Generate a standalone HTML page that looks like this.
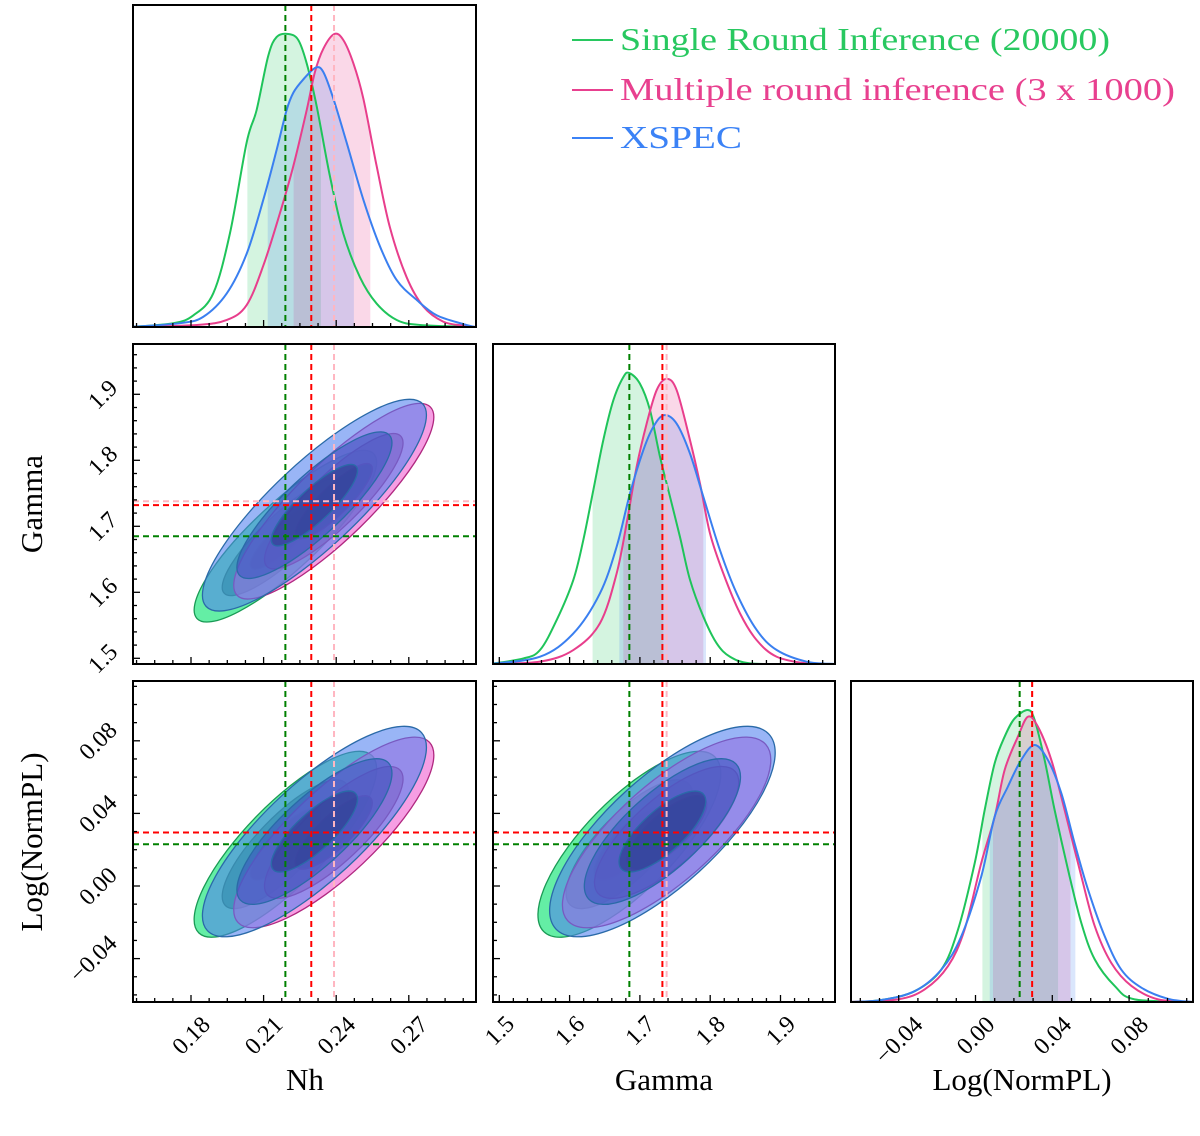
<!DOCTYPE html>
<html><head><meta charset="utf-8"><style>
html,body{margin:0;padding:0;background:#fff}
svg{display:block}
text{font-family:"Liberation Serif",serif;fill:#000}
</style></head>
<body>
<svg id="chart" width="1200" height="1136" viewBox="0 0 1200 1136" xmlns="http://www.w3.org/2000/svg"></svg>
<script>
// ---------- data ----------
const seriesNames = ['Single Round Inference (20000)', 'Multiple round inference (3 x 1000)', 'XSPEC'];
const paramNames = ['Nh', 'Gamma', 'Log(NormPL)'];
const greenMean = [0.219, 1.685, 0.023];
const pinkMean = [0.239, 1.738, 0.0295];
const blueMean = [0.231, 1.732, 0.030];
const greenSigma = [0.0145, 0.050, 0.0197];
const pinkSigma = [0.0159, 0.057, 0.0202];
const blueSigma = [0.0178, 0.0617, 0.0223];
// correlations [Nh-Gamma, Nh-LogNorm, Gamma-LogNorm]
const greenRho = [0.86, 0.81, 0.76];
const pinkRho = [0.86, 0.81, 0.76];
const blueRho = [0.85, 0.80, 0.75];
const contourLevels = [1, 1.8, 2.6];
const truthGreen = [0.219, 1.685, 0.023];
const truthRed = [0.2297, 1.732, 0.0295];
const truthPink = [0.2391, 1.738, 0.0295];
const nhGreenX = [0.1548,0.1727,0.1810,0.1892,0.1961,0.2030,0.2071,0.2119,0.2154,0.2202,0.2243,0.2278,0.2319,0.2374,0.2429,0.2498,0.2567,0.2650,0.2746,0.2974];
const nhGreenD = [0,0.013,0.04,0.115,0.32,0.63,0.74,0.925,0.99,1.0,0.98,0.90,0.755,0.515,0.32,0.17,0.08,0.024,0.007,0];
const nhPinkX = [0.1548,0.1824,0.1948,0.2030,0.2099,0.2168,0.2223,0.2278,0.2312,0.2347,0.2392,0.2429,0.2471,0.2512,0.2567,0.2622,0.2691,0.2760,0.2843,0.2925,0.2974];
const nhPinkD = [0,0.007,0.024,0.075,0.21,0.39,0.55,0.74,0.87,0.95,1.0,0.98,0.90,0.78,0.55,0.34,0.17,0.07,0.018,0.005,0];
const nhBlueX = [0.1548,0.1755,0.1851,0.1948,0.2030,0.2099,0.2154,0.2195,0.2223,0.2264,0.2315,0.2347,0.2388,0.2443,0.2512,0.2581,0.2650,0.2733,0.2815,0.2925,0.2974];
const nhBlueD = [0,0.013,0.035,0.115,0.25,0.435,0.605,0.74,0.80,0.845,0.885,0.87,0.78,0.63,0.435,0.275,0.16,0.092,0.04,0.01,0];
const gGreenX = [1.4868,1.5342,1.5579,1.5816,1.6053,1.6195,1.6337,1.6479,1.6622,1.6764,1.6849,1.7001,1.7144,1.7286,1.7428,1.7570,1.7713,1.7902,1.8092,1.8282,1.8566,1.9135,1.978];
const gGreenD = [0,0.019,0.048,0.151,0.289,0.426,0.597,0.769,0.906,0.986,1.0,0.963,0.872,0.712,0.575,0.437,0.289,0.163,0.071,0.025,0.002,0,0];
const gPinkX = [1.4868,1.5579,1.6053,1.6432,1.6669,1.6811,1.6953,1.7096,1.7238,1.7380,1.7523,1.7713,1.7855,1.7997,1.8187,1.8424,1.8661,1.8946,1.9372,1.978];
const gPinkD = [0,0.008,0.048,0.14,0.311,0.483,0.677,0.826,0.941,0.98,0.941,0.769,0.62,0.449,0.311,0.174,0.082,0.025,0.002,0];
const gBlueX = [1.4868,1.5579,1.6053,1.6432,1.6669,1.6859,1.7049,1.7191,1.7343,1.7523,1.7713,1.7902,1.8139,1.8376,1.8661,1.8946,1.9372,1.978];
const gBlueD = [0,0.025,0.105,0.243,0.403,0.586,0.735,0.815,0.855,0.826,0.723,0.575,0.391,0.243,0.117,0.048,0.008,0];
const lGreenX = [-0.0648,-0.0490,-0.0317,-0.0178,-0.0091,-0.0004,0.0048,0.0100,0.0152,0.0204,0.0273,0.0308,0.0360,0.0412,0.0482,0.0551,0.0621,0.0725,0.0829,0.1133];
const lGreenD = [0,0.007,0.037,0.111,0.248,0.476,0.658,0.818,0.909,0.971,1.0,0.966,0.829,0.658,0.453,0.271,0.146,0.055,0.009,0];
const lPinkX = [-0.0648,-0.0404,-0.0265,-0.0143,-0.0057,0.0030,0.0100,0.0152,0.0221,0.0273,0.0325,0.0395,0.0464,0.0551,0.0621,0.0707,0.0812,0.0951,0.1133];
const lPinkD = [0,0.009,0.043,0.123,0.248,0.476,0.635,0.795,0.909,0.977,0.943,0.829,0.658,0.431,0.26,0.134,0.055,0.009,0];
const lBlueX = [-0.0648,-0.0490,-0.0317,-0.0178,-0.0074,0.0030,0.0100,0.0169,0.0238,0.0308,0.0377,0.0447,0.0516,0.0586,0.0673,0.0759,0.0864,0.1003,0.1133];
const lBlueD = [0,0.007,0.037,0.111,0.225,0.43,0.635,0.738,0.829,0.88,0.829,0.715,0.544,0.385,0.225,0.111,0.049,0.011,0];
const nhBands = [[0.2033,0.2337],[0.2224,0.2541],[0.2117,0.2473]];
const gBands = [[1.6327,1.7333],[1.6764,1.7902],[1.6707,1.7940]];
const lBands = [[0.0036,0.0430],[0.0091,0.0495],[0.0074,0.0520]];
const nhTicks = [0.18, 0.21, 0.24, 0.27];
const nhTickLabels = ['0.18', '0.21', '0.24', '0.27'];
const gTicks = [1.5, 1.6, 1.7, 1.8, 1.9];
const gTickLabels = ['1.5', '1.6', '1.7', '1.8', '1.9'];
const lTicks = [-0.04, 0.00, 0.04, 0.08];
const lTickLabels = ['\u22120.04', '0.00', '0.04', '0.08'];

// ---------- layout ----------
const NS = 'http://www.w3.org/2000/svg';
const svg = document.getElementById('chart');
const colX = [[133,476],[493,835],[851,1193]];
const rowY = [[5,327],[344,664],[681,1002]];
const xAxis = [{p0:191,v0:0.18,k:2420,minor:0.0075,lo:0.15,hi:0.30},
               {p0:499.3,v0:1.5,k:703,minor:0.02,lo:1.48,hi:2.0},
               {p0:898.7,v0:-0.04,k:1920,minor:0.01,lo:-0.07,hi:0.12}];
const yAxis = [null,
               {p0:658.3,v0:1.5,k:-660,minor:0.02,lo:1.48,hi:2.0},
               {p0:886,v0:0.0,k:-1815,minor:0.01,lo:-0.07,hi:0.12}];
const majorTicks = [nhTicks, gTicks, lTicks];
const majorLabels = [nhTickLabels, gTickLabels, lTickLabels];
function fx(i, v){ const a = xAxis[i]; return a.p0 + (v - a.v0) * a.k; }
function fy(j, v){ const a = yAxis[j]; return a.p0 + (v - a.v0) * a.k; }

const colors = {green:'#1fc45a', pink:'#e83e8c', blue:'#3a7ff0'};
const means = [greenMean, pinkMean, blueMean];
const sigmas = [greenSigma, pinkSigma, blueSigma];
const rhos = [greenRho, pinkRho, blueRho];
const lineCols = [colors.green, colors.pink, colors.blue];
const bandFill = ['rgba(40,200,100,0.2)','rgba(232,62,140,0.2)','rgba(70,130,240,0.2)'];
const levelFill = [['#28e882','#18a85e','#0e6a3c'],['#f062d2','#b83a98','#6e2060'],['#5080f0','#3a55c0','#283a8a']];
const levelOpacity = [0.72, 0.62, 0.58];
const strokeCols = ['#1a9a55','#b02880','#2a6aa8'];

function el(tag, attrs, parent){
  const e = document.createElementNS(NS, tag);
  for (const k in attrs) e.setAttribute(k, attrs[k]);
  (parent || svg).appendChild(e);
  return e;
}
function smoothPath(pts){
  let d = 'M' + pts[0][0].toFixed(2) + ',' + pts[0][1].toFixed(2);
  for (let i = 0; i < pts.length - 1; i++){
    const p0 = pts[Math.max(0,i-1)], p1 = pts[i], p2 = pts[i+1], p3 = pts[Math.min(pts.length-1,i+2)];
    const c1x = p1[0] + (p2[0]-p0[0])/6, c1y = p1[1] + (p2[1]-p0[1])/6;
    const c2x = p2[0] - (p3[0]-p1[0])/6, c2y = p2[1] - (p3[1]-p1[1])/6;
    d += ' C' + c1x.toFixed(2)+','+c1y.toFixed(2)+' '+c2x.toFixed(2)+','+c2y.toFixed(2)+' '+p2[0].toFixed(2)+','+p2[1].toFixed(2);
  }
  return d;
}

const defs = el('defs', {});
function clipFor(id, x0, y0, x1, y1){
  const cp = el('clipPath', {id:id}, defs);
  el('rect', {x:x0, y:y0, width:x1-x0, height:y1-y0}, cp);
}

// ---------- 1D panels ----------
const oneD = [
  {i:0, xs:[nhGreenX,nhPinkX,nhBlueX], ds:[nhGreenD,nhPinkD,nhBlueD], bands:nhBands, name:'nh'},
  {i:1, xs:[gGreenX,gPinkX,gBlueX], ds:[gGreenD,gPinkD,gBlueD], bands:gBands, name:'gamma'},
  {i:2, xs:[lGreenX,lPinkX,lBlueX], ds:[lGreenD,lPinkD,lBlueD], bands:lBands, name:'lognorm'}
];
oneD.forEach(p => {
  const [x0,x1] = colX[p.i], [y0,y1] = rowY[p.i];
  const g = el('g', {});
  
  
  clipFor('clip1d'+p.i, x0, y0, x1, y1);
  const H = (y1 - y0) - 29;
  const py = d => y1 - d * H;
  for (let s = 0; s < 3; s++){
    const pts = p.xs[s].map((v,k) => [fx(p.i, v), py(p.ds[s][k])]);
    const path = smoothPath(pts);
    const cid = 'band'+p.i+'_'+s;
    const bx0 = fx(p.i, p.bands[s][0]), bx1 = fx(p.i, p.bands[s][1]);
    clipFor(cid, bx0, y0, bx1, y1);
    const band = el('path', {d: path + ' L' + pts[pts.length-1][0] + ',' + y1 + ' L' + pts[0][0] + ',' + y1 + ' Z', fill: bandFill[s], 'clip-path':'url(#'+cid+')'}, g);
    
    
  }
  for (let s = 0; s < 3; s++){
    const pts = p.xs[s].map((v,k) => [fx(p.i, v), py(p.ds[s][k])]);
    const line = el('path', {d: smoothPath(pts), fill:'none', stroke: lineCols[s], 'stroke-width':2, 'clip-path':'url(#clip1d'+p.i+')'}, g);
    
    
  }
  [[truthPink,'#ffb6c1'],[truthGreen,'#008000'],[truthRed,'#ff0000']].forEach(([t,c]) => {
    const x = fx(p.i, t[p.i]);
    const ln = el('line', {x1:x, x2:x, y1:y0, y2:y1, stroke:c, 'stroke-width':2, 'stroke-dasharray':'6,4'}, g);
    
    
  });
});

// ---------- 2D panels ----------
const twoD = [[1,0],[2,0],[2,1]];
function rhoIndex(r, c){ if (r===1 && c===0) return 0; if (r===2 && c===0) return 1; return 2; }
twoD.forEach(([r,c]) => {
  const [x0,x1] = colX[c], [y0,y1] = rowY[r];
  const g = el('g', {});
  
  
  const cid = 'clip2d'+r+c;
  clipFor(cid, x0, y0, x1, y1);
  g.setAttribute('clip-path', 'url(#'+cid+')');
  for (let s = 0; s < 3; s++){
    const cx = fx(c, means[s][c]), cy = fy(r, means[s][r]);
    const sx = sigmas[s][c] * Math.abs(xAxis[c].k), sy = sigmas[s][r] * Math.abs(yAxis[r].k);
    const rho = rhos[s][rhoIndex(r,c)];
    const a = sx*sx, cc = sy*sy, b = -rho*sx*sy;
    const m = (a+cc)/2, dd = Math.sqrt(((a-cc)/2)**2 + b*b);
    const l1 = m + dd, l2 = m - dd;
    const ang = 0.5 * Math.atan2(2*b, a-cc) * 180 / Math.PI;
    for (let L = contourLevels.length - 1; L >= 0; L--){
      const k = contourLevels[L];
      const e = el('ellipse', {cx:cx, cy:cy, rx:k*Math.sqrt(l1), ry:k*Math.sqrt(l2),
        transform:'rotate('+ang.toFixed(2)+' '+cx.toFixed(2)+' '+cy.toFixed(2)+')',
        fill: levelFill[s][contourLevels.length-1-L], 'fill-opacity': levelOpacity[s],
        stroke: strokeCols[s], 'stroke-width':1.3}, g);
      
      
    }
  }
  [[truthPink,'#ffb6c1'],[truthGreen,'#008000'],[truthRed,'#ff0000']].forEach(([t,col]) => {
    if (!(c === 0 && r === 2 && col === '#ffb6c1')) {
      const yv = fy(r, t[r]);
      const h = el('line', {x1:x0, x2:x1, y1:yv, y2:yv, stroke:col, 'stroke-width':2, 'stroke-dasharray':'6,4'}, g);
      
      
    }
    const xv = fx(c, t[c]);
    const v = el('line', {x1:xv, x2:xv, y1:y0, y2:y1, stroke:col, 'stroke-width':2, 'stroke-dasharray':'6,4'}, g);
    
    
  });
});

// ---------- frames & ticks ----------
const panels = [[0,0],[1,0],[1,1],[2,0],[2,1],[2,2]];
panels.forEach(([r,c]) => {
  const [x0,x1] = colX[c], [y0,y1] = rowY[r];
  const fr = el('rect', {x:x0, y:y0, width:x1-x0, height:y1-y0, fill:'none', stroke:'#000', 'stroke-width':2});
  
  
  const ax = xAxis[c];
  for (let v = Math.ceil(ax.lo/ax.minor)*ax.minor; v <= ax.hi; v += ax.minor){
    const x = fx(c, v);
    if (x <= x0+1 || x >= x1-1) continue;
    const isMajor = majorTicks[c].some(t => Math.abs(t - v) < ax.minor/3);
    el('line', {x1:x, x2:x, y1:y1, y2:y1 - (isMajor?7:4), stroke:'#000', 'stroke-width':1.3});
  }
  if (r > c) {
    const ay = yAxis[r];
    for (let v = Math.ceil(ay.lo/ay.minor)*ay.minor; v <= ay.hi; v += ay.minor){
      const y = fy(r, v);
      if (y <= y0+1 || y >= y1-1) continue;
      const isMajor = majorTicks[r].some(t => Math.abs(t - v) < ay.minor/3);
      el('line', {x1:x0, x2:x0 + (isMajor?7:4), y1:y, y2:y, stroke:'#000', 'stroke-width':1.3});
    }
  }
});
for (let c = 0; c < 3; c++){
  majorTicks[c].forEach((v, k) => {
    const lab = majorLabels[c][k];
    const w = lab.length * 12;
    const cx = fx(c, v), cy = 1002 + 14 + w*0.4;
    const t = el('text', {x:cx, y:cy + 8, 'text-anchor':'middle', 'font-size':24, transform:'rotate(-45 '+cx+' '+cy+')'});
    t.textContent = lab;
    
    
  });
}
for (let r = 1; r < 3; r++){
  majorTicks[r].forEach((v, k) => {
    const lab = majorLabels[r][k];
    const w = lab.length * 12;
    const cx = 133 - 16 - w*0.4, cy = fy(r, v);
    const t = el('text', {x:cx, y:cy + 8, 'text-anchor':'middle', 'font-size':24, transform:'rotate(-45 '+cx+' '+cy+')'});
    t.textContent = lab;
    
    
  });
}
[['Nh',305],['Gamma',664],['Log(NormPL)',1022]].forEach(([s,x]) => {
  const t = el('text', {x:x, y:1090, 'text-anchor':'middle', 'font-size':31});
  t.textContent = s;
  
  
});
[['Gamma',504],['Log(NormPL)',842]].forEach(([s,y]) => {
  const t = el('text', {x:0, y:0, 'text-anchor':'middle', 'font-size':31, transform:'translate(42 '+y+') rotate(-90)'});
  t.textContent = s;
  
  
});
const legend = el('g', {});


const legendCols = ['#28c860', '#e8408f', '#3b82f6'];
const legendY = [40, 90, 138];
const legendLen = [490, 555, 122];
seriesNames.forEach((s, k) => {
  const ln = el('line', {x1:572, x2:613, y1:legendY[k], y2:legendY[k], stroke:legendCols[k], 'stroke-width':2}, legend);
  
  
  const t = el('text', {x:620, y:legendY[k] + 10, 'font-size':32, textLength:legendLen[k], lengthAdjust:'spacingAndGlyphs', style:'fill:'+legendCols[k]}, legend);
  t.textContent = s;
  
  
});
</script>
</body></html>
